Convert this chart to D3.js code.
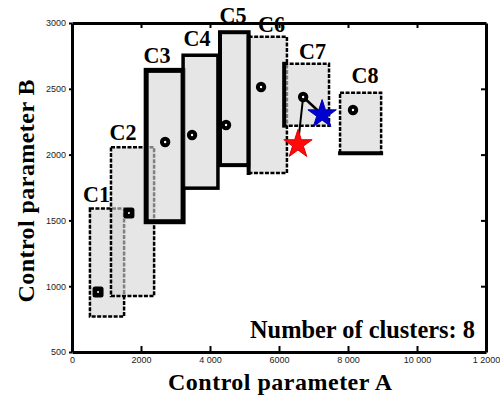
<!DOCTYPE html>
<html>
<head>
<meta charset="utf-8">
<script src="https://cdn.jsdelivr.net/npm/d3@7"></script>
<style>
	body { margin: 0; background: #fff; }
	svg { display: block; }
</style>
</head>
<body>
<div id="cluster_viz"></div>
<script>
// Chart data (in axis units):
var clusterNames = ["C1", "C2", "C3", "C4", "C5", "C6", "C7", "C8"];
var boxXMin = [520, 1130, 2150, 3220, 4290, 5120, 6150, 7770];
var boxXMax = [1510, 2380, 3220, 4230, 5120, 6230, 7450, 8960];
var boxYMin = [770, 925, 1490, 1745, 1920, 1860, 2220, 2010];
var boxYMax = [1590, 2055, 2640, 2755, 2930, 2895, 2690, 2470];
var centerX = [755, 1650, 2700, 3480, 4465, 5480, 6700, 8145];
var centerY = [956, 1556, 2096, 2149, 2225, 2514, 2438, 2339];
var labelX = [710, 1478, 2464, 3623, 4667, 5783, 6971, 8493];
var labelY = [1640, 2111, 2696, 2825, 3000, 2932, 2726, 2544];
var redStar = [6550, 2078];
var blueStar = [7250, 2305];
var xTickValues = [0, 2000, 4000, 6000, 8000, 10000, 12000];
var xTickLabels = ["0", "2000", "4 000", "6000", "8 000", "10 000", "1 2000"];
var yTickValues = [500, 1000, 1500, 2000, 2500, 3000];
var yTickLabels = ["500", "1000", "1500", "2000", "2500", "3000"];
var clusterCount = 8;

// Styles of the box borders:
var boxBorder = ["dash", "dash", "solid", "solid", "solid", "dash", "dash", "dash"];
var boxBorderWidth = [2.5, 2.5, 5, 3.5, 4, 2.5, 2.5, 2.5];
var boxThickEdge = [null, null, null, null, null, "left", "left", "bottom"];
var markerShape = ["square", "square", "ring", "ring", "ring", "ring", "ring", "ring"];

var width = 500, height = 396;
var margin = {left: 72, right: 14, top: 23, bottom: 44};

// Create the SVG:
var svg = d3.select("#cluster_viz")
	.append("svg")
	.attr("width", width)
	.attr("height", height);

// Create the scales:
var xScale = d3.scaleLinear()
	.domain([0, 12000])
	.range([margin.left, width - margin.right]);

var yScale = d3.scaleLinear()
	.domain([500, 3000])
	.range([height - margin.bottom, margin.top]);

// Axes:
var xAxisCall = d3.axisBottom(xScale)
	.tickValues(xTickValues)
	.tickFormat(function(d, i){ return xTickLabels[i]; })
	.tickSizeInner(-6)
	.tickSizeOuter(0)
	.tickPadding(5);

var yAxisCall = d3.axisLeft(yScale)
	.tickValues(yTickValues)
	.tickFormat(function(d, i){ return yTickLabels[i]; })
	.tickSizeInner(3)
	.tickSizeOuter(0)
	.tickPadding(3);

var topAxisCall = d3.axisTop(xScale)
	.tickValues(xTickValues.slice(1, -1))
	.tickFormat("")
	.tickSizeInner(-5)
	.tickSizeOuter(0);

var rightAxisCall = d3.axisRight(yScale)
	.tickValues(yTickValues.slice(1, -1))
	.tickFormat("")
	.tickSizeInner(-5)
	.tickSizeOuter(0);

var x_axis_group = svg.append("g")
	.attr("transform", "translate(0," + yScale(500) + ")")
	.call(xAxisCall);

var y_axis_group = svg.append("g")
	.attr("transform", "translate(" + xScale(0) + ",0)")
	.call(yAxisCall);

var top_axis_group = svg.append("g")
	.attr("transform", "translate(0," + yScale(3000) + ")")
	.call(topAxisCall);

var right_axis_group = svg.append("g")
	.attr("transform", "translate(" + xScale(12000) + ",0)")
	.call(rightAxisCall);

[x_axis_group, y_axis_group, top_axis_group, right_axis_group].forEach(function(g){
	g.select(".domain").attr("stroke", "#000").attr("stroke-width", 3);
	g.selectAll(".tick line").attr("stroke", "#000").attr("stroke-width", 2);
	g.selectAll(".tick text")
		.attr("font-family", "'Liberation Sans', Arial, sans-serif")
		.attr("font-size", "9px")
		.attr("fill", "#222");
});

// Cluster boxes, drawn in order so later fills grey out earlier edges:
var boxes = svg.append("g")
	.selectAll("g")
	.data(clusterNames)
	.enter()
	.append("g");

boxes.append("rect")
	.attr("x", function(d, i){ return xScale(boxXMin[i]); })
	.attr("y", function(d, i){ return yScale(boxYMax[i]); })
	.attr("width", function(d, i){ return xScale(boxXMax[i]) - xScale(boxXMin[i]); })
	.attr("height", function(d, i){ return yScale(boxYMin[i]) - yScale(boxYMax[i]); })
	.attr("fill", "#d6d6d6")
	.attr("fill-opacity", 0.6)
	.attr("stroke", "#000")
	.attr("stroke-width", function(d, i){ return boxBorderWidth[i]; })
	.attr("stroke-dasharray", function(d, i){
		return boxBorder[i] == "dash" ? "4,1.5" : null;
	});

// Thick solid edge on some of the dashed boxes:
boxes.filter(function(d, i){ return boxThickEdge[i] != null; })
	.append("line")
	.attr("x1", function(d){
		var i = clusterNames.indexOf(d);
		return xScale(boxXMin[i]);
	})
	.attr("x2", function(d){
		var i = clusterNames.indexOf(d);
		return boxThickEdge[i] == "left" ? xScale(boxXMin[i]) : xScale(boxXMax[i]);
	})
	.attr("y1", function(d){
		var i = clusterNames.indexOf(d);
		return boxThickEdge[i] == "left" ? yScale(boxYMax[i]) : yScale(boxYMin[i]);
	})
	.attr("y2", function(d){
		var i = clusterNames.indexOf(d);
		return yScale(boxYMin[i]);
	})
	.attr("stroke", "#000")
	.attr("stroke-width", 4)
	.attr("stroke-linecap", "square");

// Box labels:
svg.append("g")
	.selectAll("text")
	.data(clusterNames)
	.enter()
	.append("text")
	.attr("x", function(d, i){ return xScale(labelX[i]); })
	.attr("y", function(d, i){ return yScale(labelY[i]); })
	.attr("text-anchor", "middle")
	.attr("font-family", "'Liberation Serif', 'Times New Roman', serif")
	.attr("font-weight", "bold")
	.attr("font-size", "23px")
	.attr("textLength", 27)
	.attr("lengthAdjust", "spacingAndGlyphs")
	.attr("fill", "#000")
	.text(function(d){ return d; });

// Lines from the C7 centre to the two stars:
[redStar, blueStar].forEach(function(s, k){
	svg.append("line")
		.attr("x1", xScale(centerX[6]))
		.attr("y1", yScale(centerY[6]))
		.attr("x2", xScale(s[0]))
		.attr("y2", yScale(s[1]))
		.attr("stroke", "#000")
		.attr("stroke-width", k == 0 ? 2 : 2.5);
});

// Cluster centres:
var markers = svg.append("g");

markers.selectAll("rect")
	.data(clusterNames.filter(function(d, i){ return markerShape[i] == "square"; }))
	.enter()
	.append("rect")
	.attr("x", function(d){ return xScale(centerX[clusterNames.indexOf(d)]) - 5.5; })
	.attr("y", function(d){ return yScale(centerY[clusterNames.indexOf(d)]) - 5.5; })
	.attr("width", 11)
	.attr("height", 11)
	.attr("rx", 2.5)
	.attr("fill", "#000");

markers.selectAll("circle.dot")
	.data(clusterNames.filter(function(d, i){ return markerShape[i] == "square"; }))
	.enter()
	.append("circle")
	.attr("class", "dot")
	.attr("cx", function(d){ return xScale(centerX[clusterNames.indexOf(d)]); })
	.attr("cy", function(d){ return yScale(centerY[clusterNames.indexOf(d)]); })
	.attr("r", 1)
	.attr("fill", "#fff");

markers.selectAll("circle.ring")
	.data(clusterNames.filter(function(d, i){ return markerShape[i] == "ring"; }))
	.enter()
	.append("circle")
	.attr("class", "ring")
	.attr("cx", function(d){ return xScale(centerX[clusterNames.indexOf(d)]); })
	.attr("cy", function(d){ return yScale(centerY[clusterNames.indexOf(d)]); })
	.attr("r", 3.2)
	.attr("fill", "#fff")
	.attr("stroke", "#000")
	.attr("stroke-width", 4);

// Stars:
var star = d3.symbol().type(d3.symbolStar).size(250);

svg.append("path")
	.attr("d", star)
	.attr("transform", "translate(" + xScale(redStar[0]) + "," + yScale(redStar[1]) + ")")
	.attr("fill", "#ff0a0a")
	.attr("stroke", "#e00000")
	.attr("stroke-width", 1);

svg.append("path")
	.attr("d", star)
	.attr("transform", "translate(" + xScale(blueStar[0]) + "," + yScale(blueStar[1]) + ")")
	.attr("fill", "#0000d0")
	.attr("stroke", "#0000b0")
	.attr("stroke-width", 1);

// Annotation:
svg.append("text")
	.attr("x", 250)
	.attr("y", 338)
	.attr("font-family", "'Liberation Serif', 'Times New Roman', serif")
	.attr("font-weight", "bold")
	.attr("font-size", "25px")
	.attr("textLength", 225)
	.attr("lengthAdjust", "spacingAndGlyphs")
	.text("Number of clusters: " + clusterCount);

// X and Y axis labels:
svg.append("text")
	.attr("x", 280)
	.attr("y", 390)
	.attr("text-anchor", "middle")
	.attr("font-family", "'Liberation Serif', 'Times New Roman', serif")
	.attr("font-weight", "bold")
	.attr("font-size", "24px")
	.attr("textLength", 224)
	.attr("lengthAdjust", "spacing")
	.text("Control  parameter  A");

svg.append("text")
	.attr("transform", "translate(34,191) rotate(-90)")
	.attr("text-anchor", "middle")
	.attr("font-family", "'Liberation Serif', 'Times New Roman', serif")
	.attr("font-weight", "bold")
	.attr("font-size", "24px")
	.attr("textLength", 223)
	.attr("lengthAdjust", "spacing")
	.text("Control  parameter  B");
</script>
</body>
</html>
